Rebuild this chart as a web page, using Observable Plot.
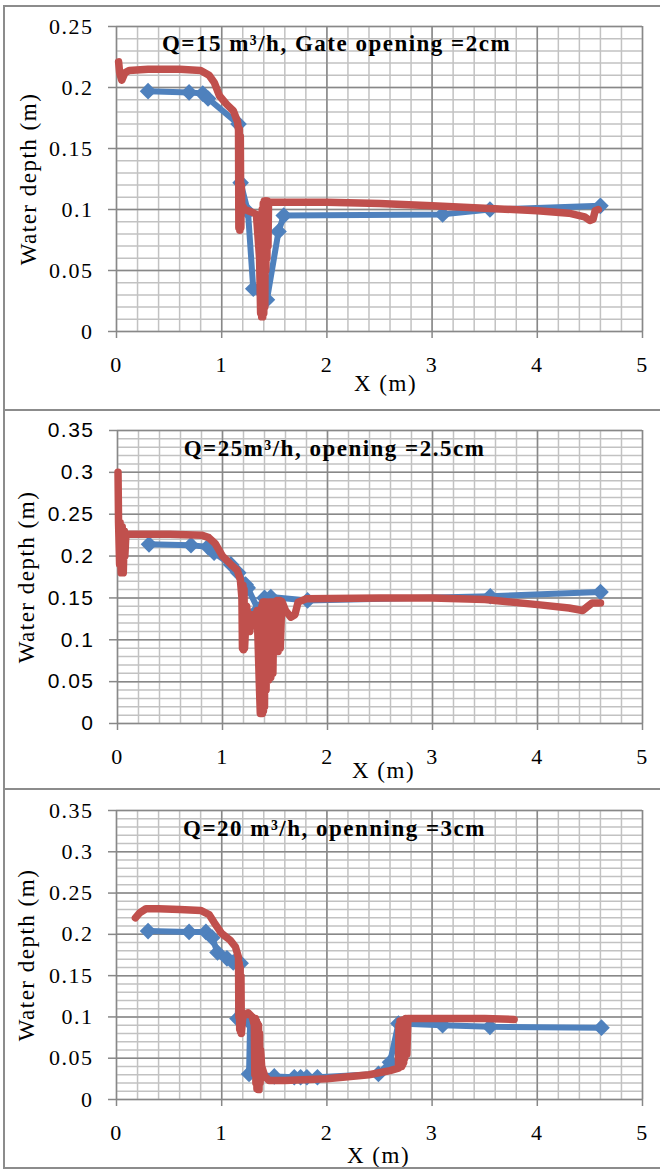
<!DOCTYPE html>
<html><head><meta charset="utf-8">
<script src="https://cdn.jsdelivr.net/npm/d3@7"></script>
<script src="https://cdn.jsdelivr.net/npm/@observablehq/plot@0.6"></script>
<style>
body{margin:0;background:#fff;width:660px;height:1172px;overflow:hidden;position:relative}
.panel{position:absolute;left:0;width:660px}
.panel svg text{letter-spacing:1.5px}
.bl{position:absolute;background:#8c8c8c}
</style></head><body>
<div id="p1" class="panel" style="top:0px"></div>
<div id="p2" class="panel" style="top:410px"></div>
<div id="p3" class="panel" style="top:789px"></div>
<div class="bl" style="left:3px;top:5px;width:660px;height:2px"></div>
<div class="bl" style="left:3px;top:409px;width:660px;height:2px"></div>
<div class="bl" style="left:3px;top:788px;width:660px;height:2px"></div>
<div class="bl" style="left:3px;top:1167px;width:660px;height:2px"></div>
<div class="bl" style="left:3px;top:5px;width:2px;height:1164px"></div>
<script>
// ---- shared tick values and labels ----
const xTicks = [0, 1, 2, 3, 4, 5];
const yTicks1 = [0, 0.05, 0.1, 0.15, 0.2, 0.25];
const yTicks23 = [0, 0.05, 0.1, 0.15, 0.2, 0.25, 0.3, 0.35];
const titles = ["Q=15 m³/h, Gate opening =2cm", "Q=25m³/h, opening =2.5cm", "Q=20 m³/h, openning =3cm"];
const xTitle = "X (m)";
const yTitle = "Water depth (m)";

// ---- Panel 1: Q=15 m3/h, opening 2 cm ----
const p1ExpX = [0.30, 0.69, 0.82, 0.87, 1.16, 1.18, 1.25, 1.30, 1.43, 1.54, 1.59, 3.10, 3.55, 4.60];
const p1ExpY = [0.197, 0.196, 0.195, 0.191, 0.170, 0.122, 0.098, 0.035, 0.026, 0.082, 0.095, 0.096, 0.100, 0.103];
const p1SimX = [0.02, 0.03, 0.05, 0.08, 0.12, 0.3, 0.6, 0.8, 0.88, 0.93, 0.98, 1.05, 1.11, 1.15, 1.16, 1.163, 1.168, 1.172, 1.177, 1.182, 1.187, 1.19, 1.22, 1.28, 1.33, 1.36, 1.37, 1.375, 1.38, 1.385, 1.39, 1.395, 1.40, 1.405, 1.41, 1.415, 1.42, 1.425, 1.43, 1.435, 1.44, 1.445, 1.46, 1.6, 2.0, 2.5, 3.0, 3.5, 4.0, 4.3, 4.45, 4.5, 4.53, 4.55, 4.58];
const p1SimY = [0.221, 0.212, 0.206, 0.212, 0.214, 0.215, 0.215, 0.214, 0.210, 0.204, 0.193, 0.186, 0.181, 0.172, 0.165, 0.085, 0.166, 0.083, 0.160, 0.085, 0.120, 0.104, 0.100, 0.098, 0.096, 0.060, 0.015, 0.095, 0.012, 0.100, 0.012, 0.105, 0.015, 0.107, 0.020, 0.107, 0.050, 0.107, 0.060, 0.107, 0.070, 0.105, 0.106, 0.106, 0.106, 0.105, 0.103, 0.101, 0.099, 0.097, 0.094, 0.091, 0.092, 0.099, 0.100];

// ---- Panel 2: Q=25 m3/h, opening 2.5 cm ----
const p2ExpX = [0.30, 0.70, 0.86, 0.92, 1.08, 1.15, 1.22, 1.24, 1.34, 1.40, 1.46, 1.81, 3.55, 4.60];
const p2ExpY = [0.214, 0.213, 0.211, 0.204, 0.190, 0.180, 0.166, 0.162, 0.136, 0.150, 0.151, 0.147, 0.152, 0.157];
const p2SimX = [0.005, 0.01, 0.02, 0.025, 0.035, 0.045, 0.055, 0.065, 0.07, 0.08, 0.12, 0.5, 0.8, 0.87, 0.93, 1.0, 1.08, 1.14, 1.17, 1.185, 1.19, 1.195, 1.20, 1.205, 1.21, 1.23, 1.26, 1.28, 1.30, 1.33, 1.35, 1.36, 1.365, 1.37, 1.375, 1.38, 1.385, 1.39, 1.395, 1.40, 1.405, 1.415, 1.425, 1.44, 1.45, 1.46, 1.47, 1.48, 1.49, 1.51, 1.52, 1.53, 1.545, 1.55, 1.565, 1.6, 1.65, 1.69, 1.72, 1.8, 2.5, 3.0, 3.5, 4.0, 4.3, 4.43, 4.48, 4.52, 4.6];
const p2SimY = [0.300, 0.240, 0.190, 0.240, 0.180, 0.235, 0.180, 0.230, 0.200, 0.226, 0.226, 0.226, 0.225, 0.222, 0.215, 0.200, 0.190, 0.183, 0.172, 0.150, 0.090, 0.165, 0.088, 0.160, 0.090, 0.140, 0.110, 0.130, 0.120, 0.135, 0.050, 0.012, 0.130, 0.012, 0.140, 0.012, 0.145, 0.015, 0.145, 0.020, 0.145, 0.040, 0.145, 0.052, 0.145, 0.055, 0.145, 0.060, 0.145, 0.088, 0.147, 0.086, 0.147, 0.090, 0.146, 0.135, 0.127, 0.130, 0.145, 0.149, 0.150, 0.150, 0.148, 0.142, 0.138, 0.135, 0.140, 0.144, 0.144];

// ---- Panel 3: Q=20 m3/h, opening 3 cm ----
const p3ExpX = [0.30, 0.69, 0.85, 0.91, 0.96, 1.05, 1.11, 1.18, 1.15, 1.27, 1.26, 1.50, 1.69, 1.75, 1.81, 1.91, 2.49, 2.60, 2.68, 3.10, 3.55, 4.61];
const p3ExpY = [0.204, 0.203, 0.203, 0.196, 0.178, 0.171, 0.166, 0.165, 0.098, 0.093, 0.031, 0.028, 0.027, 0.027, 0.027, 0.027, 0.031, 0.045, 0.092, 0.090, 0.088, 0.087];
const p3SimX = [0.18, 0.22, 0.28, 0.4, 0.6, 0.8, 0.88, 0.93, 1.0, 1.08, 1.13, 1.16, 1.163, 1.167, 1.171, 1.175, 1.179, 1.183, 1.187, 1.2, 1.25, 1.29, 1.31, 1.315, 1.32, 1.325, 1.33, 1.335, 1.34, 1.345, 1.35, 1.355, 1.36, 1.365, 1.37, 1.38, 1.41, 1.45, 1.6, 2.0, 2.4, 2.6, 2.68, 2.685, 2.69, 2.695, 2.70, 2.705, 2.71, 2.715, 2.72, 2.725, 2.73, 2.735, 2.74, 2.75, 2.76, 2.77, 2.8, 3.2, 3.5, 3.78];
const p3SimY = [0.220, 0.226, 0.231, 0.231, 0.230, 0.229, 0.224, 0.214, 0.201, 0.193, 0.185, 0.172, 0.100, 0.165, 0.085, 0.160, 0.082, 0.150, 0.080, 0.100, 0.105, 0.100, 0.090, 0.030, 0.098, 0.020, 0.095, 0.013, 0.092, 0.012, 0.090, 0.012, 0.080, 0.020, 0.060, 0.040, 0.028, 0.023, 0.023, 0.025, 0.030, 0.035, 0.038, 0.090, 0.040, 0.095, 0.040, 0.095, 0.040, 0.096, 0.042, 0.096, 0.045, 0.097, 0.050, 0.098, 0.055, 0.098, 0.098, 0.098, 0.098, 0.097];

const zip = (xs, ys) => xs.map((x, i) => ({x, y: ys[i]}));
const serif = "Liberation Serif";
const sans = "Liberation Sans";

function panel(o) {
  const xMinor = d3.range(0, 5.0001, 0.2);
  const yMinor = d3.range(0, o.yMax + 1e-6, 0.01);
  const exp = zip(o.ex, o.ey), sim = zip(o.sx, o.sy);
  return Plot.plot({
    width: 660, height: o.height,
    marginLeft: o.ml, marginRight: 18, marginTop: o.mt, marginBottom: o.mb,
    x: {domain: [0, 5]}, y: {domain: [0, o.yMax]},
    style: {background: "transparent", fontFamily: serif, fontSize: "22px", color: "#000", overflow: "visible"},
    marks: [
      Plot.ruleX(xMinor, {stroke: "#c2c2c2", strokeWidth: 1.5}),
      Plot.ruleY(yMinor, {stroke: "#c2c2c2", strokeWidth: 1.5}),
      Plot.ruleX(xTicks, {stroke: "#888", strokeWidth: 1.5}),
      Plot.ruleY(o.yTicks, {stroke: "#888", strokeWidth: 1.5}),
      Plot.axisX({ticks: xTicks, tickSize: 7, stroke: "#888", strokeWidth: 1.5, tickFormat: () => "", label: null}),
      Plot.axisY({ticks: o.yTicks, tickSize: 8, stroke: "#888", strokeWidth: 1.5, tickFormat: () => "", label: null}),
      Plot.text(xTicks, {x: d => d, y: () => 0, text: d => String(d), lineAnchor: "top", dy: 25, fontSize: 22, fontFamily: serif, fill: "#000"}),
      Plot.text(o.yTicks, {x: () => 0, y: d => d, text: d => String(d), textAnchor: "end", dx: o.ydxT, fontSize: o.yFontSize, fontFamily: o.yFont, fill: "#000"}),
      Plot.line(exp, {x: "x", y: "y", stroke: "#4F81BD", strokeWidth: 6, strokeLinejoin: "round"}),
      Plot.dot(exp, {x: "x", y: "y", symbol: "diamond2", r: 7.5, fill: "#4F81BD", stroke: "none"}),
      Plot.line(sim, {x: "x", y: "y", stroke: "#C0504D", strokeWidth: 7.5, strokeLinejoin: "round", strokeLinecap: "round"}),
      Plot.text([o.title], {frameAnchor: "top", lineAnchor: "top", dx: o.tdx, dy: o.tdy, fontWeight: "bold", fontSize: 23, fontFamily: serif, fill: "#000"}),
      Plot.text([xTitle], {frameAnchor: "bottom", lineAnchor: "top", dx: o.xdx, dy: o.xdy, fontSize: 23, fontFamily: serif, fill: "#000"}),
      Plot.text([yTitle], {frameAnchor: "left", textAnchor: "middle", rotate: -90, dx: o.ydx, fontSize: 23, fontFamily: serif, fill: "#000"})
    ]
  });
}

document.getElementById("p1").append(panel({
  ex: p1ExpX, ey: p1ExpY, sx: p1SimX, sy: p1SimY, yMax: 0.25, yTicks: yTicks1,
  height: 409, ml: 116, mt: 26, mb: 78, title: titles[0], tdx: -43, tdy: 7.7,
  xdx: 6, xdy: 42.7, ydx: -88, yFont: serif, yFontSize: 22, ydxT: -23
}));
document.getElementById("p2").append(panel({
  ex: p2ExpX, ey: p2ExpY, sx: p2SimX, sy: p2SimY, yMax: 0.35, yTicks: yTicks23,
  height: 378, ml: 117, mt: 20, mb: 65, title: titles[1], tdx: -45.5, tdy: 8.7,
  xdx: 3.5, xdy: 37.7, ydx: -91, yFont: sans, yFontSize: 21, ydxT: -23
}));
document.getElementById("p3").append(panel({
  ex: p3ExpX, ey: p3ExpY, sx: p3SimX, sy: p3SimY, yMax: 0.35, yTicks: yTicks23,
  height: 379, ml: 116, mt: 21, mb: 69, title: titles[2], tdx: -45, tdy: 8.7,
  xdx: -1, xdy: 46.7, ydx: -90, yFont: serif, yFontSize: 22, ydxT: -23
}));
</script>
</body></html>
